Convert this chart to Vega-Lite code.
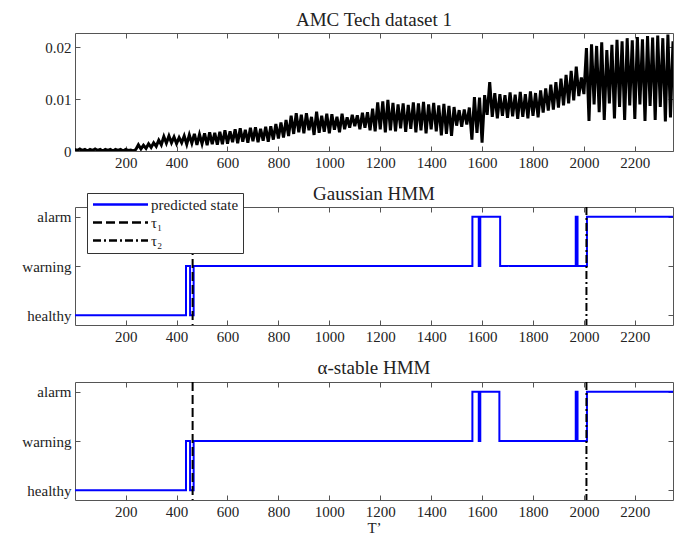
{
  "$schema": "https://vega.github.io/schema/vega-lite/v6.json",
  "padding": {"left": 21, "top": 10, "right": 8, "bottom": 2},
  "spacing": 13,
  "datasets": {
    "signal": [
      {"t":0,"v":0.0003},{"t":10,"v":0.0001},{"t":20,"v":0.0004},{"t":30,"v":0.0001},{"t":40,"v":0.0003},{"t":50,"v":0.0000},{"t":60,"v":0.0003},{"t":70,"v":0.0001},{"t":80,"v":0.0004},{"t":90,"v":0.0001},
      {"t":100,"v":0.0003},{"t":110,"v":0.0000},{"t":120,"v":0.0003},{"t":130,"v":0.0001},{"t":140,"v":0.0003},{"t":150,"v":0.0000},{"t":160,"v":0.0003},{"t":170,"v":0.0001},{"t":180,"v":0.0003},{"t":190,"v":0.0000},
      {"t":200,"v":0.0003},{"t":210,"v":0.0001},{"t":220,"v":0.0002},{"t":230,"v":0.0000},{"t":240,"v":0.0003},{"t":250,"v":0.0012},{"t":260,"v":0.0004},{"t":270,"v":0.0011},{"t":280,"v":0.0005},{"t":290,"v":0.0014},
      {"t":300,"v":0.0007},{"t":310,"v":0.0016},{"t":320,"v":0.0009},{"t":330,"v":0.0021},{"t":340,"v":0.0012},{"t":350,"v":0.0028},{"t":360,"v":0.0015},{"t":370,"v":0.0029},{"t":380,"v":0.0016},{"t":390,"v":0.0027},
      {"t":400,"v":0.0014},{"t":410,"v":0.0026},{"t":420,"v":0.0016},{"t":430,"v":0.0029},{"t":440,"v":0.0013},{"t":450,"v":0.0031},{"t":460,"v":0.0015},{"t":470,"v":0.0033},{"t":480,"v":0.0012},{"t":490,"v":0.0032},
      {"t":500,"v":0.0014},{"t":510,"v":0.0034},{"t":520,"v":0.0011},{"t":530,"v":0.0036},{"t":540,"v":0.0013},{"t":550,"v":0.0035},{"t":560,"v":0.0012},{"t":570,"v":0.0037},{"t":580,"v":0.0013},{"t":590,"v":0.0040},
      {"t":600,"v":0.0014},{"t":610,"v":0.0038},{"t":620,"v":0.0017},{"t":630,"v":0.0042},{"t":640,"v":0.0015},{"t":650,"v":0.0044},{"t":660,"v":0.0018},{"t":670,"v":0.0041},{"t":680,"v":0.0016},{"t":690,"v":0.0045},
      {"t":700,"v":0.0019},{"t":710,"v":0.0046},{"t":720,"v":0.0017},{"t":730,"v":0.0043},{"t":740,"v":0.0020},{"t":750,"v":0.0047},{"t":760,"v":0.0018},{"t":770,"v":0.0048},{"t":780,"v":0.0022},{"t":790,"v":0.0052},
      {"t":800,"v":0.0024},{"t":810,"v":0.0055},{"t":820,"v":0.0026},{"t":830,"v":0.0060},{"t":840,"v":0.0029},{"t":850,"v":0.0068},{"t":860,"v":0.0033},{"t":870,"v":0.0073},{"t":880,"v":0.0036},{"t":890,"v":0.0070},
      {"t":900,"v":0.0034},{"t":910,"v":0.0073},{"t":920,"v":0.0040},{"t":930,"v":0.0066},{"t":940,"v":0.0031},{"t":950,"v":0.0076},{"t":960,"v":0.0035},{"t":970,"v":0.0068},{"t":980,"v":0.0037},{"t":990,"v":0.0072},
      {"t":1000,"v":0.0034},{"t":1010,"v":0.0071},{"t":1020,"v":0.0041},{"t":1030,"v":0.0066},{"t":1040,"v":0.0036},{"t":1050,"v":0.0072},{"t":1060,"v":0.0042},{"t":1070,"v":0.0065},{"t":1080,"v":0.0045},{"t":1090,"v":0.0070},
      {"t":1100,"v":0.0048},{"t":1110,"v":0.0069},{"t":1120,"v":0.0042},{"t":1130,"v":0.0074},{"t":1140,"v":0.0045},{"t":1150,"v":0.0075},{"t":1160,"v":0.0040},{"t":1170,"v":0.0082},{"t":1180,"v":0.0038},{"t":1190,"v":0.0094},
      {"t":1200,"v":0.0042},{"t":1210,"v":0.0096},{"t":1220,"v":0.0036},{"t":1230,"v":0.0099},{"t":1240,"v":0.0040},{"t":1250,"v":0.0093},{"t":1260,"v":0.0038},{"t":1270,"v":0.0090},{"t":1280,"v":0.0044},{"t":1290,"v":0.0092},
      {"t":1300,"v":0.0037},{"t":1310,"v":0.0089},{"t":1320,"v":0.0043},{"t":1330,"v":0.0094},{"t":1340,"v":0.0036},{"t":1350,"v":0.0092},{"t":1360,"v":0.0040},{"t":1370,"v":0.0095},{"t":1380,"v":0.0034},{"t":1390,"v":0.0090},
      {"t":1400,"v":0.0042},{"t":1410,"v":0.0093},{"t":1420,"v":0.0038},{"t":1430,"v":0.0088},{"t":1440,"v":0.0030},{"t":1450,"v":0.0091},{"t":1460,"v":0.0033},{"t":1470,"v":0.0087},{"t":1480,"v":0.0029},{"t":1490,"v":0.0085},
      {"t":1500,"v":0.0049},{"t":1510,"v":0.0079},{"t":1520,"v":0.0047},{"t":1530,"v":0.0080},{"t":1540,"v":0.0051},{"t":1550,"v":0.0084},{"t":1560,"v":0.0022},{"t":1570,"v":0.0104},{"t":1580,"v":0.0035},{"t":1590,"v":0.0103},
      {"t":1600,"v":0.0016},{"t":1610,"v":0.0108},{"t":1620,"v":0.0070},{"t":1630,"v":0.0133},{"t":1640,"v":0.0066},{"t":1650,"v":0.0112},{"t":1660,"v":0.0063},{"t":1670,"v":0.0110},{"t":1680,"v":0.0068},{"t":1690,"v":0.0108},
      {"t":1700,"v":0.0064},{"t":1710,"v":0.0113},{"t":1720,"v":0.0067},{"t":1730,"v":0.0109},{"t":1740,"v":0.0062},{"t":1750,"v":0.0114},{"t":1760,"v":0.0066},{"t":1770,"v":0.0110},{"t":1780,"v":0.0063},{"t":1790,"v":0.0115},
      {"t":1800,"v":0.0068},{"t":1810,"v":0.0112},{"t":1820,"v":0.0065},{"t":1830,"v":0.0117},{"t":1840,"v":0.0074},{"t":1850,"v":0.0121},{"t":1860,"v":0.0078},{"t":1870,"v":0.0128},{"t":1880,"v":0.0080},{"t":1890,"v":0.0133},
      {"t":1900,"v":0.0084},{"t":1910,"v":0.0140},{"t":1920,"v":0.0088},{"t":1930,"v":0.0147},{"t":1940,"v":0.0092},{"t":1950,"v":0.0155},{"t":1960,"v":0.0098},{"t":1970,"v":0.0163},{"t":1980,"v":0.0106},{"t":1990,"v":0.0142},
      {"t":2000,"v":0.0110},{"t":2010,"v":0.0199},{"t":2020,"v":0.0058},{"t":2030,"v":0.0206},{"t":2040,"v":0.0090},{"t":2050,"v":0.0203},{"t":2060,"v":0.0075},{"t":2070,"v":0.0210},{"t":2080,"v":0.0060},{"t":2090,"v":0.0195},
      {"t":2100,"v":0.0092},{"t":2110,"v":0.0205},{"t":2120,"v":0.0063},{"t":2130,"v":0.0215},{"t":2140,"v":0.0085},{"t":2150,"v":0.0212},{"t":2160,"v":0.0060},{"t":2170,"v":0.0218},{"t":2180,"v":0.0088},{"t":2190,"v":0.0214},
      {"t":2200,"v":0.0062},{"t":2210,"v":0.0220},{"t":2220,"v":0.0090},{"t":2230,"v":0.0216},{"t":2240,"v":0.0058},{"t":2250,"v":0.0222},{"t":2260,"v":0.0087},{"t":2270,"v":0.0219},{"t":2280,"v":0.0060},{"t":2290,"v":0.0223},
      {"t":2300,"v":0.0085},{"t":2310,"v":0.0218},{"t":2320,"v":0.0057},{"t":2330,"v":0.0225},{"t":2340,"v":0.0065},{"t":2350,"v":0.0212}
    ],
    "gauss": [
      {"t":1,"s":1,"series":"predicted state"},{"t":437,"s":2,"series":"predicted state"},{"t":453,"s":1,"series":"predicted state"},{"t":467,"s":2,"series":"predicted state"},
      {"t":1562,"s":3,"series":"predicted state"},{"t":1587,"s":2,"series":"predicted state"},{"t":1593,"s":3,"series":"predicted state"},{"t":1671,"s":2,"series":"predicted state"},
      {"t":1968,"s":3,"series":"predicted state"},{"t":1975,"s":2,"series":"predicted state"},{"t":2012,"s":3,"series":"predicted state"},{"t":2350,"s":3,"series":"predicted state"}
    ],
    "stable": [
      {"t":1,"s":1,"series":"predicted state"},{"t":437,"s":2,"series":"predicted state"},{"t":453,"s":1,"series":"predicted state"},{"t":467,"s":2,"series":"predicted state"},
      {"t":1562,"s":3,"series":"predicted state"},{"t":1587,"s":2,"series":"predicted state"},{"t":1593,"s":3,"series":"predicted state"},{"t":1668,"s":2,"series":"predicted state"},
      {"t":1968,"s":3,"series":"predicted state"},{"t":1975,"s":2,"series":"predicted state"},{"t":2012,"s":3,"series":"predicted state"},{"t":2350,"s":3,"series":"predicted state"}
    ],
    "taus": [
      {"t":463,"series":"τ₁"},{"t":2010,"series":"τ₂"}
    ]
  },
  "resolve": {
    "scale": {"color": "independent", "strokeDash": "independent"},
    "legend": {"color": "independent", "strokeDash": "independent"}
  },
  "vconcat": [
    {
      "title": "AMC Tech dataset 1",
      "width": 598,
      "height": 118,
      "resolve": {"axis": {"x": "independent", "y": "independent"}},
      "layer": [
        {
          "data": {"name": "signal"},
          "mark": {"type": "line", "color": "black", "strokeWidth": 3, "clip": true},
          "encoding": {
            "x": {"field": "t", "type": "quantitative", "scale": {"domain": [1, 2350], "nice": false, "zero": false},
                  "axis": {"orient": "bottom", "title": null, "format": "d", "values": [200,400,600,800,1000,1200,1400,1600,1800,2000,2200]}},
            "y": {"field": "v", "type": "quantitative", "scale": {"domain": [0, 0.0228], "nice": false},
                  "axis": {"orient": "left", "title": null, "values": [0, 0.01, 0.02], "labelExpr": "datum.value == 0 ? '0' : format(datum.value, '.2f')"}}
          }
        },
        {
          "data": {"name": "signal"},
          "mark": {"type": "line", "opacity": 0},
          "encoding": {
            "x": {"field": "t", "type": "quantitative", "axis": {"orient": "top", "title": null, "labels": false, "values": [200,400,600,800,1000,1200,1400,1600,1800,2000,2200]}},
            "y": {"field": "v", "type": "quantitative", "axis": {"orient": "right", "title": null, "labels": false, "values": [0, 0.01, 0.02]}}
          }
        }
      ]
    },
    {
      "title": {"text": "Gaussian HMM", "offset": -11},
      "width": 598,
      "height": 118,
      "resolve": {"axis": {"x": "independent", "y": "independent"}},
      "layer": [
        {
          "data": {"name": "gauss"},
          "mark": {"type": "line", "interpolate": "step-after", "strokeWidth": 2, "clip": true},
          "encoding": {
            "x": {"field": "t", "type": "quantitative", "scale": {"domain": [1, 2350], "nice": false, "zero": false},
                  "axis": {"orient": "bottom", "title": null, "format": "d", "values": [200,400,600,800,1000,1200,1400,1600,1800,2000,2200]}},
            "y": {"field": "s", "type": "quantitative", "scale": {"domain": [0.8, 3.2], "nice": false, "zero": false},
                  "axis": {"orient": "left", "title": null, "values": [1, 2, 3], "labelExpr": "datum.value == 1 ? 'healthy' : datum.value == 2 ? 'warning' : 'alarm'"}},
            "color": {"field": "series", "type": "nominal", "scale": {"domain": ["predicted state", "τ₁", "τ₂"], "range": ["#0000ff", "black", "black"]},
                      "legend": {"title": null, "orient": "none", "legendX": 12, "legendY": -14}},
            "strokeDash": {"field": "series", "type": "nominal", "scale": {"domain": ["predicted state", "τ₁", "τ₂"], "range": [[1, 0], [9, 4], [8, 3, 2, 3]]},
                      "legend": {"title": null, "orient": "none", "legendX": 12, "legendY": -14}}
          }
        },
        {
          "data": {"name": "taus"},
          "mark": {"type": "rule", "strokeWidth": 2},
          "encoding": {
            "x": {"field": "t", "type": "quantitative", "axis": null},
            "color": {"field": "series", "type": "nominal"},
            "strokeDash": {"field": "series", "type": "nominal"}
          }
        },
        {
          "data": {"name": "gauss"},
          "mark": {"type": "line", "opacity": 0},
          "encoding": {
            "x": {"field": "t", "type": "quantitative", "axis": {"orient": "top", "title": null, "labels": false, "values": [200,400,600,800,1000,1200,1400,1600,1800,2000,2200]}},
            "y": {"field": "s", "type": "quantitative", "axis": {"orient": "right", "title": null, "labels": false, "values": [1, 2, 3]}}
          }
        }
      ]
    },
    {
      "title": "α-stable HMM",
      "width": 598,
      "height": 118,
      "resolve": {"axis": {"x": "independent", "y": "independent"}},
      "layer": [
        {
          "data": {"name": "stable"},
          "mark": {"type": "line", "interpolate": "step-after", "strokeWidth": 2, "color": "#0000ff", "clip": true},
          "encoding": {
            "x": {"field": "t", "type": "quantitative", "scale": {"domain": [1, 2350], "nice": false, "zero": false},
                  "axis": {"orient": "bottom", "title": "T’", "format": "d", "values": [200,400,600,800,1000,1200,1400,1600,1800,2000,2200]}},
            "y": {"field": "s", "type": "quantitative", "scale": {"domain": [0.8, 3.2], "nice": false, "zero": false},
                  "axis": {"orient": "left", "title": null, "values": [1, 2, 3], "labelExpr": "datum.value == 1 ? 'healthy' : datum.value == 2 ? 'warning' : 'alarm'"}}
          }
        },
        {
          "data": {"name": "taus"},
          "mark": {"type": "rule", "strokeWidth": 2, "color": "black"},
          "encoding": {
            "x": {"field": "t", "type": "quantitative", "axis": null},
            "strokeDash": {"field": "series", "type": "nominal", "scale": {"domain": ["τ₁", "τ₂"], "range": [[9, 4], [8, 3, 2, 3]]}, "legend": null}
          }
        },
        {
          "data": {"name": "stable"},
          "mark": {"type": "line", "opacity": 0},
          "encoding": {
            "x": {"field": "t", "type": "quantitative", "axis": {"orient": "top", "title": null, "labels": false, "values": [200,400,600,800,1000,1200,1400,1600,1800,2000,2200]}},
            "y": {"field": "s", "type": "quantitative", "axis": {"orient": "right", "title": null, "labels": false, "values": [1, 2, 3]}}
          }
        }
      ]
    }
  ],
  "config": {
    "font": "Liberation Serif",
    "view": {"stroke": "#555", "strokeWidth": 1},
    "axis": {"domain": false, "grid": false, "tickColor": "#555", "tickSize": 5, "offset": -5, "tickWidth": 1,
             "labelFont": "Liberation Serif", "labelFontSize": 15, "labelColor": "#222", "labelPadding": 4,
             "titleFont": "Liberation Serif", "titleFontSize": 15, "titleFontWeight": "normal", "titleColor": "#222", "titlePadding": 1},
    "title": {"font": "Liberation Serif", "fontSize": 19, "fontWeight": "normal", "color": "#222", "offset": 3},
    "legend": {"labelFont": "Liberation Serif", "labelFontSize": 15, "labelColor": "#222", "strokeColor": "#333",
               "fillColor": "white", "padding": 4, "symbolType": "M-5,0H5", "symbolSize": 121, "symbolStrokeWidth": 2.5,
               "symbolOffset": 22, "labelOffset": 23, "rowPadding": 2}
  }
}
